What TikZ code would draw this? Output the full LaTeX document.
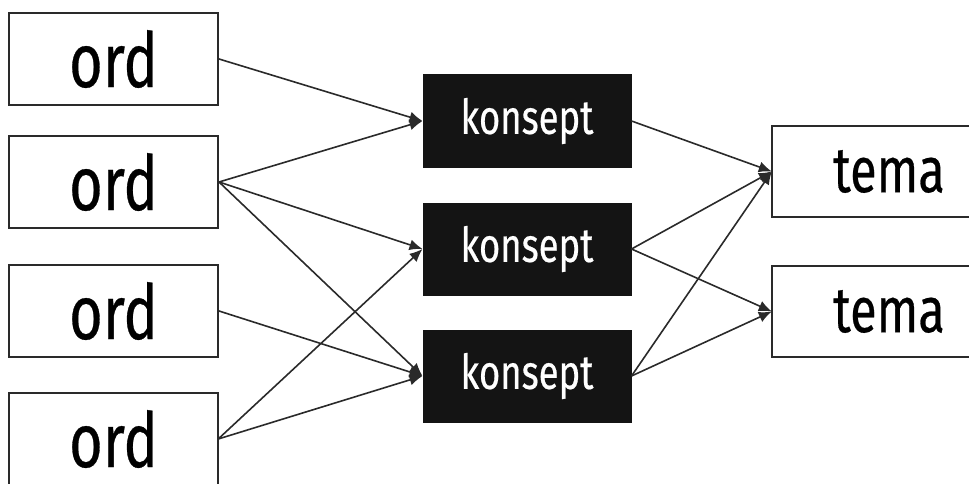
\documentclass[tikz,border=0pt]{standalone}
\usepackage{fontspec}
\newfontfamily\labelfont{Fira Sans}[FakeStretch=0.76, FakeBold=0.4]
\usetikzlibrary{arrows.meta}

\definecolor{edgegray}{HTML}{2A2A2A}
\definecolor{boxdark}{HTML}{141414}

\tikzset{
  wordbox/.style={draw=edgegray, line width=2pt, fill=white,
    minimum width=209pt, minimum height=92pt, inner sep=0pt,
    font=\labelfont\fontsize{76}{76}\selectfont, text=black},
  wordlabel/.style={minimum width=209pt, minimum height=70pt, inner sep=0pt,
    font=\labelfont\fontsize{76}{76}\selectfont, text=black},
  conceptbox/.style={draw=boxdark, line width=1pt, fill=boxdark,
    minimum width=208pt, minimum height=92pt, inner sep=0pt,
    font=\labelfont\fontsize{48}{48}\selectfont, text=white},
  themelabel/.style={minimum width=234pt, minimum height=91pt, inner sep=0pt,
    font=\labelfont\fontsize{64}{64}\selectfont, text=black},
  frame/.style={draw=edgegray, line width=2pt, line join=miter},
  link/.style={draw=edgegray, line width=1.6pt,
    -{Latex[length=13pt,width=11pt]}},
}

\begin{document}
\begin{tikzpicture}[x=1pt, y=-1pt]
  \useasboundingbox (0,0) rectangle (969,484);
  \clip (0,0) rectangle (969,484);

  % words
  \node[wordbox] (o1) at (113.5, 59)  {ord};
  \node[wordbox] (o2) at (113.5, 182) {ord};
  \node[wordbox] (o3) at (113.5, 311) {ord};
  % the last word box runs off the bottom of the page
  \node[wordlabel] (o4) at (113.5, 439) {ord};
  \draw[frame] ([yshift=-60pt]o4.south west) -- ([yshift=11pt]o4.north west)
    -- ([yshift=11pt]o4.north east) -- ([yshift=-60pt]o4.south east);

  % concepts
  \node[conceptbox] (k1) at (527, 121) {konsept};
  \node[conceptbox] (k2) at (527, 249) {konsept};
  \node[conceptbox] (k3) at (527, 376) {konsept};

  % themes: the frames are open on the right and run off the page
  \node[themelabel] (t1) at (889, 171.5) {tema};
  \node[themelabel] (t2) at (889, 311.5) {tema};
  \draw[frame] ([xshift=80pt]t1.north east) -- (t1.north west)
    -- (t1.south west) -- ([xshift=80pt]t1.south east);
  \draw[frame] ([xshift=80pt]t2.north east) -- (t2.north west)
    -- (t2.south west) -- ([xshift=80pt]t2.south east);

  % words to concepts
  \draw[link] (o1.east) -- (k1.west);
  \draw[link] (o2.east) -- (k1.west);
  \draw[link] (o2.east) -- (k2.west);
  \draw[link] (o2.east) -- (k3.west);
  \draw[link] (o3.east) -- (k3.west);
  \draw[link] (o4.east) -- (k2.west);
  \draw[link] (o4.east) -- (k3.west);

  % concepts to themes
  \draw[link] (k1.east) -- (t1.west);
  \draw[link] (k2.east) -- (t1.west);
  \draw[link] (k2.east) -- (t2.west);
  \draw[link] (k3.east) -- (t1.west);
  \draw[link] (k3.east) -- (t2.west);
\end{tikzpicture}
\end{document}
